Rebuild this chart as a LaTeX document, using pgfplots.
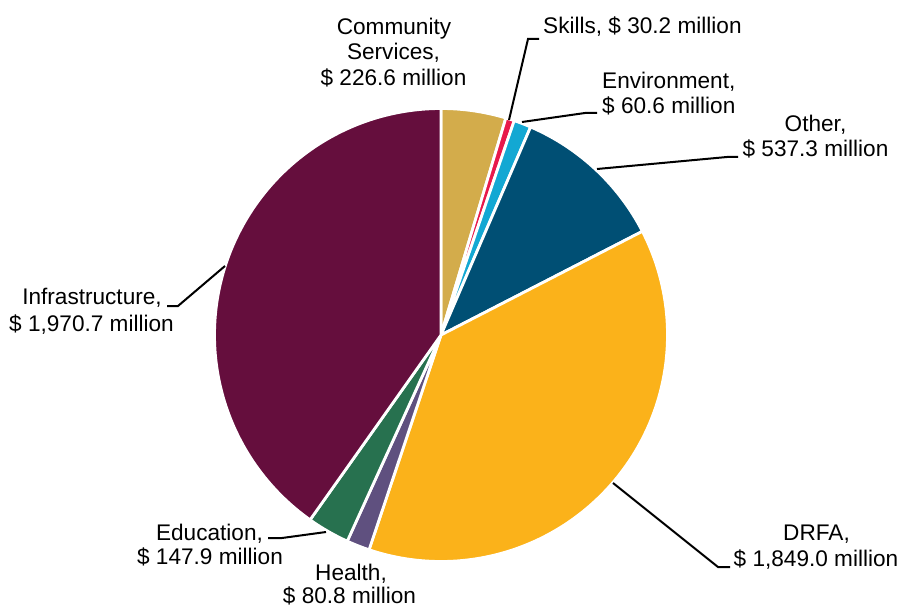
\documentclass[border=0pt]{standalone}
\usepackage{pgfplots}
\pgfplotsset{compat=1.18}
\usepackage{fontspec}
\setmainfont{Liberation Sans}
\definecolor{cCS}{HTML}{D3AC4B}
\definecolor{cSK}{HTML}{E8194A}
\definecolor{cEN}{HTML}{13A8D3}
\definecolor{cOT}{HTML}{004F74}
\definecolor{cDR}{HTML}{FBB21A}
\definecolor{cHE}{HTML}{5F507F}
\definecolor{cED}{HTML}{27714F}
\definecolor{cIN}{HTML}{650E3D}
% data (million $)
\def\vCS{226.6}\def\vSK{30.2}\def\vEN{60.6}\def\vOT{537.3}
\def\vDR{1849.0}\def\vHE{80.8}\def\vED{147.9}\def\vIN{1970.7}
\pgfmathsetmacro\total{\vCS+\vSK+\vEN+\vOT+\vDR+\vHE+\vED+\vIN}
\pgfmathsetmacro\aA{90}
\pgfmathsetmacro\aB{\aA-(\vCS/\total)*360}
\pgfmathsetmacro\aC{\aB-(\vSK/\total)*360}
\pgfmathsetmacro\aD{\aC-(\vEN/\total)*360}
\pgfmathsetmacro\aE{\aD-(\vOT/\total)*360}
\pgfmathsetmacro\aF{\aE-(\vDR/\total)*360}
\pgfmathsetmacro\aG{\aF-(\vHE/\total)*360}
\pgfmathsetmacro\aH{\aG-(\vED/\total)*360}
\pgfmathsetmacro\aI{-270}
\def\cx{441}\def\cy{270}\def\rr{226.5}
\begin{document}
\fontsize{22.6}{27}\selectfont
\begin{tikzpicture}
\begin{axis}[scale only axis, width=901pt, height=605pt,
  xmin=0, xmax=901, ymin=0, ymax=605, hide axis, clip=false,
  every axis plot/.append style={samples=120},
  slice/.style={draw=white, line width=2.8pt, line join=round}]
\path (axis cs:0,0) rectangle (axis cs:901,605);
\addplot[slice, fill=cCS, domain=\aB:\aA] ({\cx+\rr*cos(x)},{\cy+\rr*sin(x)}) -- (axis cs:\cx,\cy) -- cycle;
\addplot[slice, fill=cSK, domain=\aC:\aB] ({\cx+\rr*cos(x)},{\cy+\rr*sin(x)}) -- (axis cs:\cx,\cy) -- cycle;
\addplot[slice, fill=cEN, domain=\aD:\aC] ({\cx+\rr*cos(x)},{\cy+\rr*sin(x)}) -- (axis cs:\cx,\cy) -- cycle;
\addplot[slice, fill=cOT, domain=\aE:\aD] ({\cx+\rr*cos(x)},{\cy+\rr*sin(x)}) -- (axis cs:\cx,\cy) -- cycle;
\addplot[slice, fill=cDR, domain=\aF:\aE] ({\cx+\rr*cos(x)},{\cy+\rr*sin(x)}) -- (axis cs:\cx,\cy) -- cycle;
\addplot[slice, fill=cHE, domain=\aG:\aF] ({\cx+\rr*cos(x)},{\cy+\rr*sin(x)}) -- (axis cs:\cx,\cy) -- cycle;
\addplot[slice, fill=cED, domain=\aH:\aG] ({\cx+\rr*cos(x)},{\cy+\rr*sin(x)}) -- (axis cs:\cx,\cy) -- cycle;
\addplot[slice, fill=cIN, domain=\aI:\aH] ({\cx+\rr*cos(x)},{\cy+\rr*sin(x)}) -- (axis cs:\cx,\cy) -- cycle;
% leader lines
\addplot[black, line width=2pt] coordinates {(509,485) (528,566) (539,566)};
\addplot[black, line width=2pt] coordinates {(522,483) (585,492) (597,492)};
\addplot[black, line width=2pt] coordinates {(597,436) (727,448) (738,448)};
\addplot[black, line width=2pt] coordinates {(613,122) (718,38) (730,38)};
\addplot[black, line width=2pt] coordinates {(326,73) (282,67) (268,67)};
\addplot[black, line width=2pt] coordinates {(225,339) (178,299) (167,299)};
% labels
\tikzset{lab/.style={inner sep=0pt, anchor=base}, labw/.style={inner sep=0pt, anchor=base west}}
\node[lab] at (axis cs:394,570.7) {Community};
\node[lab] at (axis cs:393.5,545) {Services,};
\node[lab] at (axis cs:393.5,519) {\$ 226.6 million};
\node[labw] at (axis cs:543,571) {Skills, \$ 30.2 million};
\node[labw] at (axis cs:602,516.7) {Environment,};
\node[labw] at (axis cs:602,491.7) {\$ 60.6 million};
\node[lab] at (axis cs:815.5,473.3) {Other,};
\node[lab] at (axis cs:815.5,448.3) {\$ 537.3 million};
\node[lab] at (axis cs:816.5,65) {DRFA,};
\node[lab] at (axis cs:816,38.3) {\$ 1,849.0 million};
\node[lab] at (axis cs:351,25) {Health,};
\node[lab] at (axis cs:349.5,1.5) {\$ 80.8 million};
\node[lab] at (axis cs:209.5,65) {Education,};
\node[lab] at (axis cs:210,41) {\$ 147.9 million};
\node[lab] at (axis cs:92,300.7) {Infrastructure,};
\node[lab] at (axis cs:91.5,273.3) {\$ 1,970.7 million};
\end{axis}
\end{tikzpicture}
\end{document}
